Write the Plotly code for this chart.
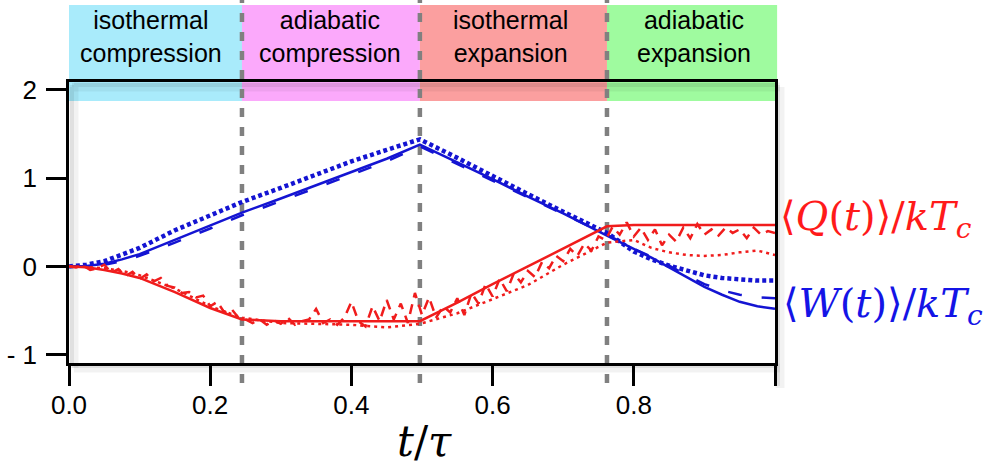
import plotly.graph_objects as go

# ---------------- data ----------------
phase_edges = [0.0, 0.245, 0.497, 0.762, 1.0]
phase_labels = ["isothermal<br>compression", "adiabatic<br>compression",
                "isothermal<br>expansion", "adiabatic<br>expansion"]
phase_colors = ["#a9ebfb", "#fba9fb", "#fb9f9f", "#9ffb9f"]

t_grid = [0, 0.025, 0.05, 0.075, 0.1, 0.15, 0.2, 0.245, 0.3, 0.35, 0.4, 0.45, 0.497,
          0.55, 0.6, 0.65, 0.7, 0.762, 0.8, 0.825, 0.85, 0.875, 0.9, 0.925, 0.95, 0.975, 1.0]

W_solid = [0, 0.005, 0.03, 0.08, 0.14, 0.30, 0.46, 0.61, 0.77, 0.92, 1.07, 1.22, 1.38,
           1.18, 0.99, 0.79, 0.60, 0.35, 0.20, 0.10, -0.01, -0.12, -0.23, -0.32, -0.40, -0.45, -0.48]
W_dashed = [0, 0.004, 0.02, 0.06, 0.12, 0.27, 0.43, 0.58, 0.74, 0.89, 1.04, 1.19, 1.36,
            1.16, 0.97, 0.78, 0.59, 0.36, 0.20, 0.11, 0.01, -0.10, -0.20, -0.27, -0.32, -0.35, -0.36]
W_dotted = [0, 0.02, 0.06, 0.13, 0.21, 0.41, 0.58, 0.73, 0.89, 1.04, 1.19, 1.32, 1.44,
            1.23, 1.02, 0.82, 0.62, 0.38, 0.17, 0.08, 0.01, -0.05, -0.10, -0.13, -0.15, -0.16, -0.16]

Q_solid = [0, -0.01, -0.04, -0.08, -0.13, -0.29, -0.47, -0.60, -0.62, -0.62, -0.62, -0.62, -0.62,
           -0.41, -0.20, 0.00, 0.20, 0.455, 0.47, 0.47, 0.47, 0.47, 0.47, 0.47, 0.47, 0.47, 0.47]
Q_dotted = [0, -0.005, -0.02, -0.05, -0.10, -0.25, -0.45, -0.58, -0.64, -0.65, -0.66, -0.69, -0.65,
            -0.53, -0.37, -0.21, 0.02, 0.27, 0.30, 0.21, 0.16, 0.13, 0.12, 0.13, 0.16, 0.18, 0.13]

t_noisy = [round(i * 0.01, 2) for i in range(101)]
Q_dashed = [0.00, -0.01, 0.01, -0.04, -0.02, 0.02, -0.07, -0.03, -0.11, -0.06,
            -0.14, -0.09, -0.17, -0.13, -0.22, -0.24, -0.30, -0.29, -0.35, -0.33,
            -0.45, -0.40, -0.52, -0.48, -0.58, -0.60, -0.64, -0.60, -0.66, -0.61,
            -0.65, -0.58, -0.66, -0.62, -0.60, -0.48, -0.64, -0.60, -0.66, -0.58,
            -0.40, -0.62, -0.68, -0.45, -0.62, -0.38, -0.60, -0.42, -0.64, -0.30,
            -0.55, -0.35, -0.58, -0.45, -0.52, -0.36, -0.55, -0.30, -0.42, -0.20,
            -0.34, -0.14, -0.28, -0.08, -0.18, -0.05, -0.12, 0.05, -0.02, 0.12,
            0.06, 0.20, 0.12, 0.26, 0.18, 0.34, 0.30, 0.45, 0.36, 0.50,
            0.34, 0.44, 0.30, 0.42, 0.24, 0.36, 0.28, 0.44, 0.32, 0.48,
            0.36, 0.42, 0.35, 0.44, 0.38, 0.42, 0.32, 0.44, 0.36, 0.40, 0.38]

x_tickvals = [0, 0.2, 0.4, 0.6, 0.8, 1.0]
x_ticktext = ["0.0", "0.2", "0.4", "0.6", "0.8", ""]
y_tickvals = [-1, 0, 1, 2]
y_ticktext = ["- 1", "0", "1", "2"]

# ---------------- figure ----------------
FW, FH = 1005, 474
ML, MR, MT, MB = 69, 230, 82, 111
PW, PH = FW - ML - MR, FH - MT - MB


def py(p):  # pixel y -> paper y
    return (FH - MB - p) / PH


def px(p):  # pixel x -> paper x
    return (p - ML) / PW


BLUE = "#1414d2"
RED = "#f01c1c"

fig = go.Figure()
fig.add_trace(go.Scatter(x=t_grid, y=W_dotted, mode="lines",
                         line=dict(color=BLUE, width=4.5, dash="4px,3px")))
fig.add_trace(go.Scatter(x=t_grid, y=W_dashed, mode="lines",
                         line=dict(color=BLUE, width=2.5, dash="14px,20px")))
fig.add_trace(go.Scatter(x=t_grid, y=W_solid, mode="lines",
                         line=dict(color=BLUE, width=2.5)))
fig.add_trace(go.Scatter(x=t_grid, y=Q_dotted, mode="lines",
                         line=dict(color=RED, width=2.5, dash="3px,4px")))
fig.add_trace(go.Scatter(x=t_noisy, y=Q_dashed, mode="lines",
                         line=dict(color=RED, width=2.5, dash="10px,7px")))
fig.add_trace(go.Scatter(x=t_grid, y=Q_solid, mode="lines",
                         line=dict(color=RED, width=2.5)))

shapes = []
# phase boxes
for i in range(4):
    shapes.append(dict(type="rect", xref="paper", yref="paper",
                       x0=phase_edges[i], x1=phase_edges[i + 1] + (0.003 if i == 3 else 0),
                       y0=py(101), y1=py(5), fillcolor=phase_colors[i],
                       line=dict(width=0), layer="below"))
# drop shadow of frame
for w, a, off in [(9, 0.05, 5), (4, 0.07, 3)]:
    c = f"rgba(0,0,0,{a})"
    shapes += [
        dict(type="line", xref="paper", yref="paper", x0=px(ML + off), x1=px(ML + PW + off),
             y0=py(MT + off), y1=py(MT + off), line=dict(color=c, width=w), layer="below"),
        dict(type="line", xref="paper", yref="paper", x0=px(ML + off), x1=px(ML + PW + off),
             y0=py(MT + PH + off), y1=py(MT + PH + off), line=dict(color=c, width=w), layer="below"),
        dict(type="line", xref="paper", yref="paper", x0=px(ML + off), x1=px(ML + off),
             y0=py(MT + off), y1=py(MT + PH + off), line=dict(color=c, width=w), layer="below"),
        dict(type="line", xref="paper", yref="paper", x0=px(ML + PW + off), x1=px(ML + PW + off),
             y0=py(MT + off), y1=py(MT + PH + 20 + off), line=dict(color=c, width=w), layer="below"),
    ]
# gray dashed phase boundaries
for e in phase_edges[1:4]:
    shapes.append(dict(type="line", xref="paper", yref="paper", x0=e, x1=e,
                       y0=py(383), y1=py(0), line=dict(color="#808080", width=4.5, dash="9px,10px"),
                       layer="below"))

annotations = []
text_centers = [151, 330, 510, 694]
for i in range(4):
    annotations.append(dict(xref="paper", yref="paper", x=px(text_centers[i]), y=py(37),
                            text=phase_labels[i], showarrow=False, xanchor="center", yanchor="middle",
                            font=dict(family="Liberation Sans", size=25, color="black")))
annotations.append(dict(xref="paper", yref="paper", x=px(778), y=py(219), xanchor="left", yanchor="middle",
                        text="⟨<i>Q</i>(<i>t</i>)⟩/<i>kT</i><sub><i>c</i></sub>", showarrow=False,
                        font=dict(family="DejaVu Serif", size=40, color="#ff1a1a")))
annotations.append(dict(xref="paper", yref="paper", x=px(781), y=py(306), xanchor="left", yanchor="middle",
                        text="⟨<i>W</i>(<i>t</i>)⟩/<i>kT</i><sub><i>c</i></sub>", showarrow=False,
                        font=dict(family="DejaVu Serif", size=40, color="#1414e6")))
annotations.append(dict(xref="paper", yref="paper", x=px(424), y=py(442), xanchor="center", yanchor="middle",
                        text="<i>t</i>/<i>τ</i>", showarrow=False,
                        font=dict(family="DejaVu Serif", size=42, color="black")))

fig.update_layout(
    width=FW, height=FH,
    margin=dict(l=ML, r=MR, t=MT, b=MB, pad=0, autoexpand=False),
    paper_bgcolor="white", plot_bgcolor="rgba(0,0,0,0)",
    showlegend=False,
    font=dict(family="Liberation Sans", size=26, color="black"),
    shapes=shapes, annotations=annotations,
    xaxis=dict(range=[0, 1], tickvals=x_tickvals, ticktext=x_ticktext, automargin=False,
               showline=True, mirror=True, linecolor="black", linewidth=2.5,
               ticks="outside", ticklen=20, tickwidth=2.5, tickcolor="black",
               showgrid=False, zeroline=False, ticklabelstandoff=-3),
    yaxis=dict(range=[-1.093, 2.089], tickvals=y_tickvals, ticktext=y_ticktext, automargin=False,
               showline=True, mirror=True, linecolor="black", linewidth=2.5,
               ticks="outside", ticklen=20, tickwidth=2.5, tickcolor="black",
               showgrid=False, zeroline=False, ticklabelstandoff=4),
)

fig.write_html("out.html")
